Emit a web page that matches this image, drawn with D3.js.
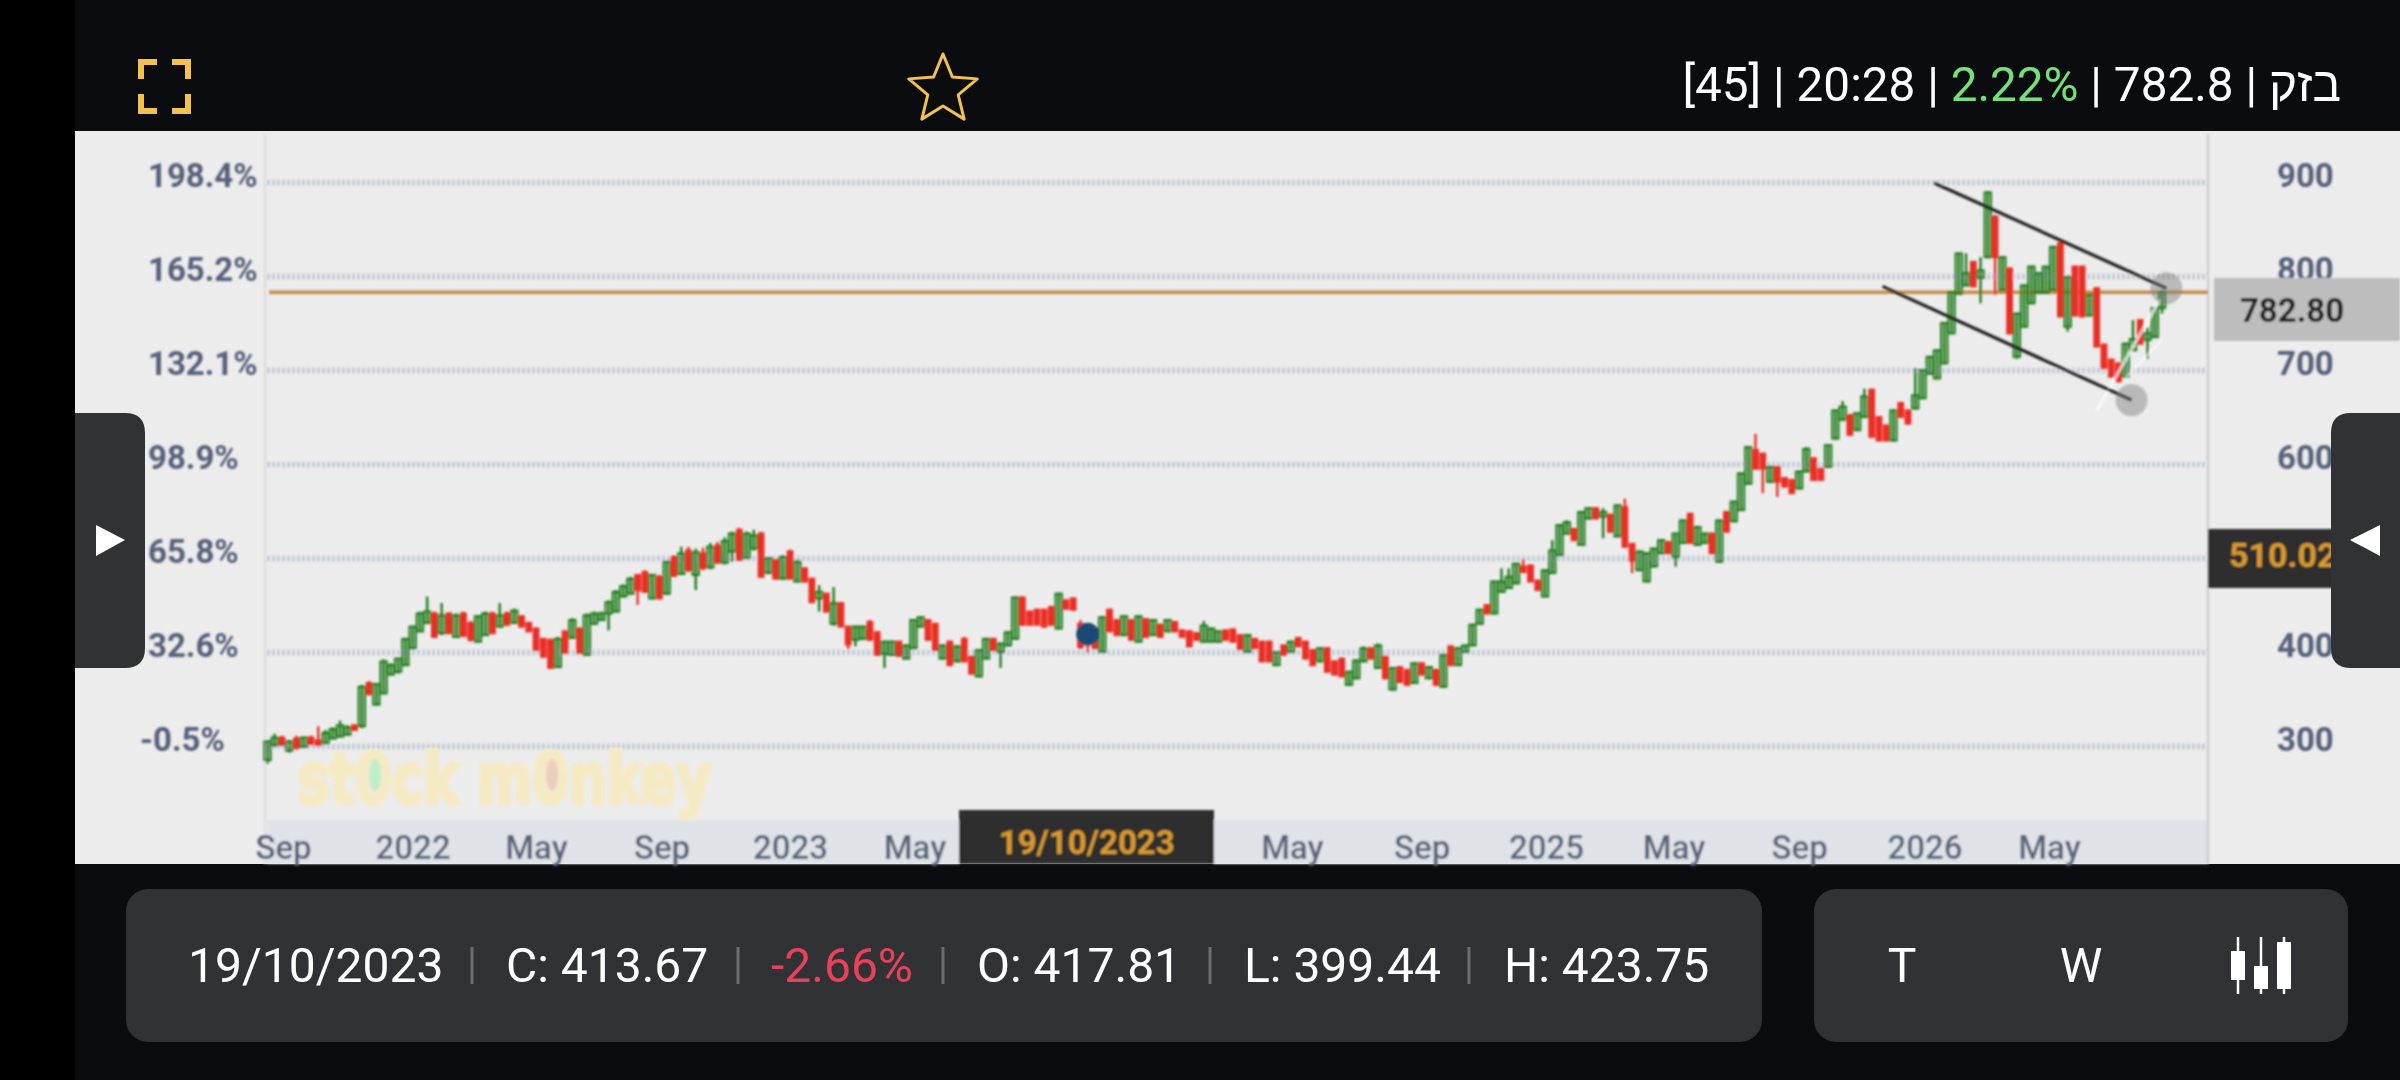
<!DOCTYPE html>
<html>
<head>
<meta charset="utf-8">
<script src="https://cdn.jsdelivr.net/npm/d3@7/dist/d3.min.js"></script>
<style>
html, body { margin: 0; padding: 0; background: #000; }
svg { display: block; }
text { font-family: Roboto, sans-serif; }
</style>
</head>
<body>
<div id="chart"></div>
<script>
// weekly candles, first one is the week of 17 Aug 2021
var firstWeek = new Date(2021, 7, 17);

var opens = [
285,301,309,295,308,299,309,306,303,308,
310,312,322,321,367,344,356,376,379,386,
404,422,431,441,420,441,416,441,431,411,
418,441,427,441,431,438,431,425,414,413,
384,422,415,425,397,430,434,441,443,459,
462,482,485,457,480,462,501,483,508,482,
505,490,513,495,507,530,500,510,526,484,
498,478,507,475,489,478,457,462,430,452,
427,413,414,432,421,398,397,411,393,404,
427,434,430,393,411,390,414,395,374,393,
414,400,407,414,458,443,445,445,448,425,
455,457,430,417.81,425,400,445,434,418,434,
411,435,418,429,422,432,423,422,420,411,
411,411,423,424,418,400,414,411,411,386,
407,400,415,411,402,390,404,390,393,365,
372,390,404,383,395,360,384,381,367,388,
372,381,363,406,386,400,407,430,450,441,
464,468,473,491,492,476,459,484,503,526,
531,514,542,553,544,546,523,554,515,487,
475,491,505,517,501,516,547,514,516,526,
496,549,539,551,579,615,611,581,597,585,
583,574,592,606,595,597,627,647,652,636,
650,679,650,641,625,665,657,659,670,696,
691,707,739,781,790,815,798,820,863,785,
808,714,746,771,782,782,785,835,746,810,
810,758,787,727,711,707,693,721,753,732,
735,766];

var closes = [
305,309,301,305,298,309,302,301,314,318,
322,320,317,363,355,366,390,386,393,414,
427,441,443,416,439,420,439,417,413,438,
441,420,439,429,444,427,422,402,395,383,
414,399,434,399,439,441,441,453,464,470,
478,466,464,482,457,496,481,505,487,506,
489,512,495,518,526,498,526,524,480,500,
478,501,478,496,475,453,464,443,452,427,
408,427,427,413,397,411,411,396,407,434,
437,413,402,407,386,406,390,377,402,414,
402,409,421,458,429,429,429,427,429,462,
446,445,405,413.67,404,437,422,418,438,413,
438,416,434,416,434,422,416,406,413,428,
425,422,413,411,403,418,404,390,390,400,
397,411,406,393,386,404,379,376,374,379,
391,404,393,407,372,383,368,365,388,376,
384,365,397,386,404,407,429,445,441,475,
475,480,494,485,475,466,487,508,535,538,
519,549,553,542,549,528,556,512,497,507,
505,510,519,505,526,540,516,533,526,505,
540,528,560,590,618,595,595,597,581,576,
569,592,616,583,583,620,657,661,631,654,
672,629,625,625,657,650,643,673,700,714,
721,750,783,824,803,789,806,889,820,820,
739,760,790,810,803,810,831,757,799,758,
757,780,725,702,693,688,728,733,728,739,
766,782.8];

var highs = [
306,313,311,306,311,310,311,321,317,320,
327,322,323,365,369,367,392,388,394,415,
428,443,459,443,452,442,441,443,433,439,
443,443,452,443,446,439,432,426,415,414,
416,423,436,426,441,443,443,455,466,472,
480,483,487,483,482,497,503,512,512,510,
511,516,517,522,528,532,528,530,528,501,
499,503,509,498,490,479,471,463,469,453,
428,428,428,434,422,412,412,412,408,435,
438,435,431,408,412,407,416,396,403,415,
415,410,422,459,459,444,446,446,449,463,
456,458,434,423.75,426,438,446,435,439,435,
439,436,435,430,435,433,424,423,421,433,
426,423,424,425,419,419,415,412,412,401,
408,412,416,412,403,405,405,391,394,380,
392,406,405,409,396,384,385,382,389,389,
385,382,398,407,405,408,430,446,451,476,
489,489,495,499,493,477,488,519,536,540,
532,550,554,554,553,547,557,563,516,508,
506,511,520,518,527,541,548,534,527,527,
541,550,561,591,619,632,612,598,598,586,
584,593,618,607,596,621,658,667,653,655,
680,680,651,642,658,666,658,702,701,715,
722,751,784,825,824,816,820,890,865,821,
809,761,791,811,804,811,832,836,800,811,
811,781,788,728,712,708,729,753,754,745,
767,785];

var lows = [
281,299,300,293,296,298,301,300,302,307,
309,311,316,319,354,343,355,375,377,385,
403,421,430,415,418,419,415,416,411,410,
417,419,426,428,430,426,421,401,394,382,
383,398,414,398,396,429,433,423,442,458,
461,450,463,456,456,461,480,482,485,466,
487,488,494,493,496,497,499,508,479,483,
477,477,477,474,474,452,443,442,428,426,
403,406,413,412,396,383,396,395,392,403,
426,412,401,392,385,389,389,376,373,392,
401,383,406,413,428,428,428,426,428,424,
445,444,403,399.44,403,399,421,417,417,412,
410,415,417,415,421,421,415,405,412,410,
410,410,412,410,402,399,403,389,389,385,
396,399,405,392,385,389,378,375,373,364,
371,389,392,382,371,359,367,364,366,375,
371,364,362,385,385,399,406,429,440,440,
463,467,472,484,474,465,458,483,502,525,
518,513,541,541,521,527,522,511,484,486,
474,490,504,504,491,515,515,513,515,504,
495,527,538,550,578,594,569,580,565,575,
568,573,591,582,582,596,626,646,630,635,
649,628,624,624,624,649,642,658,669,695,
690,706,738,780,789,788,771,819,780,784,
738,712,745,770,781,781,784,756,741,757,
756,757,724,701,692,687,692,720,727,712,
734,760];

// axis labels
var priceTicks = [900, 800, 700, 600, 500, 400, 300];
var priceLabels = [900, 800, 700, 600, 400, 300]; // 500 sits behind the cursor box
var percentLabels = ["198.4%", "165.2%", "132.1%", "98.9%", "65.8%", "32.6%", "-0.5%"];
// first candle of the month; Sep 2023 and 2024 are behind the date tooltip
var dateTicks = [
  new Date(2021, 8, 1), new Date(2022, 0, 4), new Date(2022, 4, 3), new Date(2022, 8, 1),
  new Date(2023, 0, 3), new Date(2023, 4, 3),
  new Date(2024, 4, 1), new Date(2024, 8, 3), new Date(2025, 0, 1), new Date(2025, 4, 4),
  new Date(2025, 8, 2), new Date(2026, 0, 1), new Date(2026, 4, 1)
];

// drawn annotations: position in weeks + price
var upperTrendWeeks = [229.6, 261.6], upperTrendPrices = [899, 787];
var lowerTrendWeeks = [222.5, 256.8], lowerTrendPrices = [789, 668];
var whiteLineWeeks = [252, 260.7], whiteLinePrices = [657, 775];
var whiteLine2Weeks = [256, 261], whiteLine2Prices = [692, 732];

var lastPrice = 782.8, cursorPrice = 510.02;
var selectedWeek = 113, selectedDotPrice = 419;

var svg = d3.select("#chart").append("svg").attr("width", 2400).attr("height", 1080);

var x = d3.scaleTime().domain([new Date(2021, 8, 1), new Date(2026, 4, 1)]).range([283, 2049]);
var y = d3.scaleLinear().domain([300, 900]).range([746, 182]);
function weekDate(i) { return new Date(firstWeek.getTime() + i * 7 * 86400000); }
function weekX(i) { return x(weekDate(i)); }

var defs = svg.append("defs");
function addBlur(id, amount) {
  defs.append("filter").attr("id", id).attr("filterUnits", "userSpaceOnUse")
    .attr("x", 0).attr("y", 0).attr("width", 2400).attr("height", 1080)
    .append("feGaussianBlur").attr("stdDeviation", amount);
}
addBlur("soft", 0.9);
addBlur("softer", 1.6);

// backgrounds
svg.append("rect").attr("x", 75).attr("y", 0).attr("width", 2325).attr("height", 1080).attr("fill", "#0a0c0f");
svg.append("rect").attr("x", 75).attr("y", 131).attr("width", 2325).attr("height", 733).attr("fill", "#ececec");

var plot = svg.append("g").attr("filter", "url(#soft)");

// date strip
plot.append("rect").attr("x", 267).attr("y", 820).attr("width", 1941).attr("height", 44).attr("fill", "#dfe3e8");

// watermark
var mark = svg.append("g").attr("filter", "url(#softer)");
mark.append("text").attr("transform", "translate(298,803) scale(1,1.3)")
  .attr("font-size", 53).attr("font-weight", 700).attr("fill", "#f5eac3")
  .attr("stroke", "#f5eac3").attr("stroke-width", 3)
  .style("font-family", "'DejaVu Sans'").text("st0ck m0nkey");
mark.append("ellipse").attr("cx", 375).attr("cy", 775).attr("rx", 6).attr("ry", 16).attr("fill", "#bdeec9");
mark.append("ellipse").attr("cx", 552).attr("cy", 775).attr("rx", 6).attr("ry", 16).attr("fill", "#eccdbb");

// grid + price labels
var gridAxis = d3.axisRight(y).tickValues(priceTicks).tickSize(1941).tickFormat("");
var grid = plot.append("g").attr("transform", "translate(267,0)").call(gridAxis);
grid.select(".domain").remove();
grid.selectAll("line").attr("stroke", "#c3cad5").attr("stroke-width", 5.5).attr("stroke-dasharray", "3 2");

plot.append("line").attr("x1", 265).attr("x2", 265).attr("y1", 134).attr("y2", 864).attr("stroke", "#dcdcdc").attr("stroke-width", 2);
plot.append("line").attr("x1", 2208).attr("x2", 2208).attr("y1", 134).attr("y2", 864).attr("stroke", "#c8c8c8").attr("stroke-width", 2);

var rightAxis = d3.axisRight(y).tickValues(priceLabels).tickSize(0).tickPadding(0);
var rightG = plot.append("g").attr("transform", "translate(2277,0)").call(rightAxis);
rightG.select(".domain").remove();
rightG.selectAll("text").attr("x", 0).attr("dy", "0.32em").attr("transform", "translate(0,-6)")
  .attr("fill", "#56617a").attr("font-size", 33).attr("font-weight", 700).style("font-family", "Roboto, sans-serif")
  .style("text-anchor", "start");

var leftAxis = d3.axisLeft(y).tickValues(priceTicks).tickSize(0)
  .tickFormat(function(d, i) { return percentLabels[i]; });
var leftG = plot.append("g").attr("transform", "translate(148,0)").call(leftAxis);
leftG.select(".domain").remove();
leftG.selectAll("text").attr("x", function(d, i) { return percentLabels[i].charAt(0) == "-" ? -8 : 0; })
  .attr("dy", "0.32em").attr("transform", "translate(0,-6)")
  .attr("fill", "#56617a").attr("font-size", 33).attr("font-weight", 700).style("font-family", "Roboto, sans-serif")
  .style("text-anchor", "start");

// time axis
var monthName = d3.timeFormat("%b"), yearName = d3.timeFormat("%Y");
var bottomAxis = d3.axisBottom(x).tickValues(dateTicks).tickSize(0)
  .tickFormat(function(d) { return d.getMonth() == 0 ? yearName(d) : monthName(d); });
var bottomG = plot.append("g").attr("transform", "translate(0,833)").call(bottomAxis);
bottomG.select(".domain").remove();
bottomG.selectAll("text").attr("y", 0).attr("dy", "0.8em")
  .attr("fill", "#5a6478").attr("font-size", 33).attr("font-weight", 500).style("font-family", "Roboto, sans-serif");

// last price line
plot.append("line").attr("x1", 269).attr("x2", 2208).attr("y1", y(lastPrice)).attr("y2", y(lastPrice))
  .attr("stroke", "#c58a45").attr("stroke-width", 3.5);

// candles
function isUp(i) { return closes[i] >= opens[i]; }
var candles = plot.append("g").selectAll("g").data(d3.range(opens.length)).enter().append("g")
  .attr("stroke", function(i) { return isUp(i) ? "#1f7a1c" : "#ea2f28"; });

candles.append("line")
  .attr("x1", weekX).attr("x2", weekX)
  .attr("y1", function(i) { return y(highs[i]); })
  .attr("y2", function(i) { return y(lows[i]); })
  .attr("stroke-width", 2.4);

candles.append("rect")
  .attr("x", function(i) { return weekX(i) - (isUp(i) ? 3.2 : 2.4); })
  .attr("width", function(i) { return isUp(i) ? 6.4 : 4.8; })
  .attr("y", function(i) { return y(Math.max(opens[i], closes[i])); })
  .attr("height", function(i) { return Math.max(1, Math.abs(y(opens[i]) - y(closes[i]))); })
  .attr("stroke-width", 2)
  .attr("fill", function(i) { return isUp(i) ? "rgba(70,150,60,0.08)" : "#ea2f28"; });

// drawn lines
function annotation(weeks, prices, color, width, opacity) {
  plot.append("line")
    .attr("x1", weekX(weeks[0])).attr("y1", y(prices[0]))
    .attr("x2", weekX(weeks[1])).attr("y2", y(prices[1]))
    .attr("stroke", color).attr("stroke-width", width).attr("opacity", opacity);
}
annotation(whiteLineWeeks, whiteLinePrices, "#ffffff", 3, 0.7);
annotation(whiteLine2Weeks, whiteLine2Prices, "#ffffff", 3, 0.5);
annotation(upperTrendWeeks, upperTrendPrices, "#222222", 3.2, 1);
annotation(lowerTrendWeeks, lowerTrendPrices, "#222222", 3.2, 1);

[[upperTrendWeeks[1], upperTrendPrices[1]], [lowerTrendWeeks[1], lowerTrendPrices[1]]].forEach(function(h) {
  plot.append("circle").attr("cx", weekX(h[0])).attr("cy", y(h[1])).attr("r", 16)
    .attr("fill", "#7d7d7d").attr("opacity", 0.45);
});

// selected candle dot
plot.append("circle").attr("cx", weekX(selectedWeek)).attr("cy", y(selectedDotPrice)).attr("r", 11.5).attr("fill", "#1d4a73");

// value boxes on the right
plot.append("rect").attr("x", 2214).attr("y", 278).attr("width", 186).attr("height", 63).attr("fill", "#bdbdbd");
plot.append("text").attr("x", 2292).attr("y", 310).attr("dy", "0.35em").attr("text-anchor", "middle")
  .attr("font-size", 33).attr("font-weight", 700).attr("fill", "#222").text(lastPrice.toFixed(2));
plot.append("rect").attr("x", 2208).attr("y", 529).attr("width", 192).attr("height", 59).attr("fill", "#2d2d2d");
plot.append("text").attr("x", 2229).attr("y", 555).attr("dy", "0.35em")
  .attr("font-size", 34).attr("font-weight", 700).attr("fill", "#d99a2e").text(cursorPrice.toFixed(2));

// date tooltip
var fullDate = "19/10/2023";
plot.append("rect").attr("x", 959).attr("y", 810).attr("width", 255).attr("height", 54).attr("fill", "#2d2d2d");
plot.append("text").attr("x", weekX(selectedWeek) - 1).attr("y", 842).attr("text-anchor", "middle")
  .attr("dy", "0.35em").attr("font-size", 33).attr("font-weight", 700).attr("fill", "#d99a2e").text(fullDate);

// side tabs
svg.append("path").attr("d", "M75,413H125Q145,413 145,433V648Q145,668 125,668H75Z").attr("fill", "#313235");
svg.append("path").attr("d", "M2400,413H2351Q2331,413 2331,433V648Q2331,668 2351,668H2400Z").attr("fill", "#313235");
svg.append("path").attr("d", "M96,525L125,540L96,556Z").attr("fill", "#fff");
svg.append("path").attr("d", "M2380,525L2350,540L2380,556Z").attr("fill", "#fff");

// header
var iconColor = "#f2c14e";
[[138, 59, 1, 1], [191, 59, -1, 1], [138, 114, 1, -1], [191, 114, -1, -1]].forEach(function(c) {
  var sx = c[2], sy = c[3];
  svg.append("path").attr("fill", iconColor)
    .attr("d", "M" + c[0] + "," + c[1] + "h" + (sx * 19) + "v" + (sy * 6) + "h" + (-sx * 13) + "v" + (sy * 14) + "h" + (-sx * 6) + "Z");
});

var starPts = d3.range(10).map(function(i) {
  var r = i % 2 == 0 ? 36 : 16, a = -Math.PI / 2 + i * Math.PI / 5;
  return [943 + r * Math.cos(a), 90 + r * Math.sin(a)];
});
svg.append("path").attr("d", d3.line().curve(d3.curveLinearClosed)(starPts))
  .attr("fill", "none").attr("stroke", iconColor).attr("stroke-width", 3).attr("stroke-linejoin", "round");

var head = svg.append("text").attr("x", 2341).attr("y", 84).attr("dy", "0.35em").attr("text-anchor", "end")
  .attr("font-size", 47.7).attr("fill", "#fff").attr("direction", "ltr");
head.append("tspan").text("[45] | 20:28 | ");
head.append("tspan").attr("fill", "#74e07a").text("2.22%");
head.append("tspan").text(" | 782.8 | ");
head.append("tspan").text("\u05d1\u05d6\u05e7");

// bottom panels
svg.append("rect").attr("x", 126).attr("y", 889).attr("width", 1636).attr("height", 153).attr("rx", 22).attr("fill", "#313235");
svg.append("rect").attr("x", 1814).attr("y", 889).attr("width", 534).attr("height", 153).attr("rx", 22).attr("fill", "#313235");

var infoLabels = [fullDate, "C: 413.67", "-2.66%", "O: 417.81", "L: 399.44", "H: 423.75"];
var infoX = [188, 506, 771, 977, 1244, 1504];
var infoColors = ["#fff", "#fff", "#e8425a", "#fff", "#fff", "#fff"];
var infoSeparators = [472, 738, 943, 1210, 1469];

infoLabels.forEach(function(t, i) {
  svg.append("text").attr("x", infoX[i]).attr("y", 965).attr("dy", "0.35em")
    .attr("font-size", 48).attr("fill", infoColors[i]).text(t);
});
infoSeparators.forEach(function(sx) {
  svg.append("line").attr("x1", sx).attr("x2", sx).attr("y1", 947).attr("y2", 984).attr("stroke", "#6c6d70").attr("stroke-width", 3);
});

svg.append("text").attr("x", 1902).attr("y", 965).attr("dy", "0.35em").attr("text-anchor", "middle").attr("font-size", 48).attr("fill", "#fff").text("T");
svg.append("text").attr("x", 2081).attr("y", 965).attr("dy", "0.35em").attr("text-anchor", "middle").attr("font-size", 48).attr("fill", "#fff").text("W");

// candle icon
[[2238, 951, 980], [2261, 966, 989], [2284, 942, 989]].forEach(function(c) {
  svg.append("line").attr("x1", c[0]).attr("x2", c[0]).attr("y1", 937).attr("y2", 994).attr("stroke", "#fff").attr("stroke-width", 2.5);
  svg.append("rect").attr("x", c[0] - 7).attr("y", c[1]).attr("width", 14).attr("height", c[2] - c[1]).attr("fill", "#fff");
});
</script>
</body>
</html>
